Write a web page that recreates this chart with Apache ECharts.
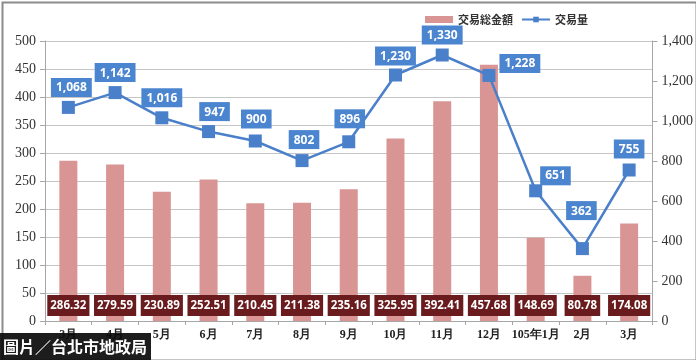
<!DOCTYPE html>
<html>
<head>
<meta charset="utf-8">
<script src="https://cdn.jsdelivr.net/npm/echarts@6/dist/echarts.min.js"></script>
<style>
html,body{margin:0;padding:0;background:#fff;}
#main{width:696px;height:360px;}
</style>
</head>
<body>
<div id="main"></div>
<script>
const categories = ['3月','4月','5月','6月','7月','8月','9月','10月','11月','12月','105年1月','2月','3月'];
const amountValues = [286.32,279.59,230.89,252.51,210.45,211.38,235.16,325.95,392.41,457.68,148.69,80.78,174.08];
const volumeValues = [1068,1142,1016,947,900,802,896,1230,1330,1228,651,362,755];
const leftTicks = {min:0, max:500, interval:50};
const rightTicks = {min:0, max:1400, interval:200};
const seriesNames = ['交易総金額','交易量'];

// label placement per point of the line (style, kept separate from data)
const lineLabelPlacement = [
  {position:'top', distance:4, offset:[3,0]},
  {position:'top', distance:4, offset:[0,0]},
  {position:'top', distance:4, offset:[0,0]},
  {position:'top', distance:4, offset:[6,0]},
  {position:'top', distance:6, offset:[1,0]},
  {position:'top', distance:5, offset:[2,0]},
  {position:'top', distance:7, offset:[1,0]},
  {position:'top', distance:3, offset:[0,0]},
  {position:'top', distance:4, offset:[0,0]},
  {position:'right', distance:4, offset:[0,-12]},
  {position:'right', distance:0, offset:[-2,-15]},
  {position:'top', distance:22, offset:[-1,0]},
  {position:'top', distance:5, offset:[0,0]}
];

const fmt = v => v.toLocaleString('en-US');

const chart = echarts.init(document.getElementById('main'));
const serif = 'Liberation Serif';

chart.setOption({
  animation:false,
  backgroundColor:'#fff',
  grid:{left:45, right:34, top:41, bottom:39, containLabel:false},
  legend:{
    top:9, left:420,
    itemWidth:28, itemHeight:7, itemGap:8,
    textStyle:{color:'#333', fontSize:11, fontWeight:'bold', fontFamily:'Noto Sans CJK JP'},
    data:[{name:seriesNames[0], icon:'rect'}, {name:seriesNames[1]}]
  },
  xAxis:{
    type:'category',
    data:categories,
    boundaryGap:true,
    axisLine:{lineStyle:{color:'#a6a6a6'}},
    axisTick:{show:true, alignWithLabel:false, length:4, lineStyle:{color:'#a6a6a6'}},
    axisLabel:{color:'#222', fontFamily:serif, fontSize:12, fontWeight:'bold', margin:8, interval:0}
  },
  yAxis:[
    {
      type:'value', min:leftTicks.min, max:leftTicks.max, interval:leftTicks.interval,
      position:'left',
      axisLine:{show:true, lineStyle:{color:'#a6a6a6'}},
      axisTick:{show:true, length:5, lineStyle:{color:'#a6a6a6'}},
      splitLine:{lineStyle:{color:'#c6c6c6', width:1}},
      axisLabel:{margin:9, color:'#333', fontFamily:serif, fontSize:14}
    },
    {
      type:'value', min:rightTicks.min, max:rightTicks.max, interval:rightTicks.interval,
      position:'right',
      axisLine:{show:true, lineStyle:{color:'#a6a6a6'}},
      axisTick:{show:true, length:5, lineStyle:{color:'#a6a6a6'}},
      splitLine:{show:false},
      axisLabel:{margin:9, color:'#333', fontFamily:serif, fontSize:14, formatter:v=>fmt(v)}
    }
  ],
  series:[
    {
      name:seriesNames[0],
      type:'bar',
      yAxisIndex:0,
      barWidth:18,
      itemStyle:{color:'#d99594'},
      data:amountValues,
      label:{
        show:true,
        position:'insideBottom',
        distance:5,
        formatter:p=>p.value.toFixed(2),
        color:'#fff',
        backgroundColor:'#6a1b1d',
        padding:[5,3,4,3],
        fontSize:11.5,
        fontFamily:'Open Sans',
        fontWeight:'bold'
      },
      z:2
    },
    {
      name:seriesNames[1],
      type:'line',
      yAxisIndex:1,
      symbol:'rect',
      symbolSize:13,
      lineStyle:{color:'#4a7fca', width:2.5},
      itemStyle:{color:'#4a7fca'},
      data:volumeValues.map((v,i)=>({
        value:v,
        label:lineLabelPlacement[i]
      })),
      label:{
        show:true,
        formatter:p=>fmt(p.value),
        color:'#fff',
        backgroundColor:'#4b84cf',
        padding:[4,5,3,5],
        fontSize:12,
        fontFamily:'Open Sans',
        fontWeight:'bold'
      },
      z:5
    }
  ],
  graphic:[
    {
      type:'rect', left:0, top:0, z:100,
      shape:{x:1, y:1, width:694, height:358},
      style:{fill:'none', stroke:'#8c8c8c', lineWidth:2}
    },
    {
      type:'rect', z:101,
      shape:{x:0, y:333, width:151, height:27},
      style:{fill:'rgba(10,10,10,0.92)'}
    },
    {
      type:'text', z:102, x:3, y:347,
      style:{text:'圖片／台北市地政局', fill:'#fff', font:'bold 16px "Noto Sans CJK TC"', textVerticalAlign:'middle'}
    }
  ]
});
</script>
</body>
</html>
